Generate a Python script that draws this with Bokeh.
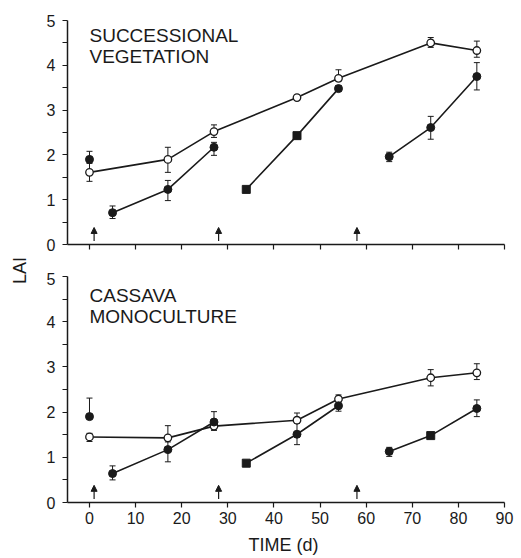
from bokeh.plotting import figure
from bokeh.models import (ColumnDataSource, Whisker, TeeHead, Arrow, NormalHead,
                          FixedTicker, Label, Range1d)
from bokeh.layouts import row, column
from bokeh.embed import file_html
from bokeh.resources import INLINE

# ---------------- data ----------------
days_open = [0, 17, 27, 45, 54, 74, 84]

# Successional vegetation (top panel)
sv_open_y = [1.61, 1.90, 2.52, 3.28, 3.71, 4.50, 4.33]
sv_open_lo = [1.41, 1.61, 2.39, 3.23, 3.65, 4.40, 4.18]
sv_open_hi = [1.81, 2.17, 2.67, 3.33, 3.90, 4.62, 4.54]
sv_init_x = [0]
sv_init_y = [1.90]
sv_init_hi = [2.08]
sv_c1_x = [5, 17, 27]
sv_c1_y = [0.71, 1.23, 2.17]
sv_c1_lo = [0.58, 0.98, 1.99]
sv_c1_hi = [0.86, 1.43, 2.28]
sv_c1_m = ["circle", "circle", "circle"]
sv_c2_x = [34, 45, 54]
sv_c2_y = [1.23, 2.43, 3.48]
sv_c2_lo = [1.21, 2.41, 3.42]
sv_c2_hi = [1.25, 2.45, 3.55]
sv_c2_m = ["square", "square", "circle"]
sv_c3_x = [65, 74, 84]
sv_c3_y = [1.96, 2.61, 3.75]
sv_c3_lo = [1.85, 2.35, 3.45]
sv_c3_hi = [2.06, 2.86, 4.06]
sv_c3_m = ["circle", "circle", "circle"]

# Cassava monoculture (bottom panel)
cm_open_y = [1.45, 1.43, 1.69, 1.82, 2.29, 2.76, 2.87]
cm_open_lo = [1.35, 1.40, 1.60, 1.75, 2.24, 2.58, 2.72]
cm_open_hi = [1.53, 1.70, 1.78, 1.98, 2.38, 2.94, 3.07]
cm_init_x = [0]
cm_init_y = [1.90]
cm_init_hi = [2.31]
cm_c1_x = [5, 17, 27]
cm_c1_y = [0.64, 1.17, 1.78]
cm_c1_lo = [0.50, 0.90, 1.60]
cm_c1_hi = [0.81, 1.34, 2.01]
cm_c1_m = ["circle", "circle", "circle"]
cm_c2_x = [34, 45, 54]
cm_c2_y = [0.87, 1.51, 2.14]
cm_c2_lo = [0.84, 1.28, 2.02]
cm_c2_hi = [0.90, 1.75, 2.23]
cm_c2_m = ["square", "circle", "circle"]
cm_c3_x = [65, 74, 84]
cm_c3_y = [1.13, 1.48, 2.08]
cm_c3_lo = [1.02, 1.45, 1.90]
cm_c3_hi = [1.22, 1.51, 2.27]
cm_c3_m = ["circle", "square", "circle"]

# planting dates (arrows)
arrow_days = [1, 28, 58]
arrow_y0 = [0.08, 0.08, 0.08]
arrow_y1 = [0.38, 0.38, 0.38]

x_ticks = [0, 10, 20, 30, 40, 50, 60, 70, 80, 90]
y_ticks = [0, 1, 2, 3, 4, 5]
y_minor = [0.5, 1.5, 2.5, 3.5, 4.5]

INK = "#1a1a1a"
FONT = "Liberation Sans"


def make_panel(open_y, open_lo, open_hi, init_x, init_y, init_hi, cycles,
               title_lines, bottom):
    fh = 226 if bottom else 224
    p = figure(frame_width=437, frame_height=fh,
               x_range=Range1d(-4.77, 90), y_range=Range1d(0, 5),
               min_border_left=37, min_border_right=17,
               min_border_top=4 if bottom else 20,
               min_border_bottom=56 if bottom else 28,
               output_backend="svg", toolbar_location=None, title=None)
    p.outline_line_color = None
    p.grid.visible = False
    p.background_fill_color = "white"
    p.border_fill_color = "white"

    for ax in (p.xaxis[0], p.yaxis[0]):
        ax.axis_line_color = INK
        ax.axis_line_width = 1.5
        ax.major_tick_line_color = INK
        ax.major_tick_line_width = 1.2
        ax.minor_tick_line_color = INK
        ax.minor_tick_line_width = 1.2
        ax.major_tick_in = 0
        ax.major_tick_out = 5
        ax.minor_tick_in = 0
        ax.minor_tick_out = 5
        ax.major_label_text_font = FONT
        ax.major_label_text_font_size = "16px"
        ax.major_label_text_color = INK

    p.xaxis[0].ticker = FixedTicker(ticks=x_ticks)
    p.xaxis[0].minor_tick_out = 0
    p.yaxis[0].ticker = FixedTicker(ticks=y_ticks, minor_ticks=y_minor)
    p.yaxis[0].major_label_standoff = 7

    if bottom:
        p.xaxis[0].major_label_standoff = 4
        p.xaxis[0].axis_label = "TIME  (d)"
        p.xaxis[0].axis_label_text_font = FONT
        p.xaxis[0].axis_label_text_font_style = "normal"
        p.xaxis[0].axis_label_text_font_size = "18px"
        p.xaxis[0].axis_label_text_color = INK
        p.xaxis[0].axis_label_standoff = 8
    else:
        # ticks only, no numbers on the upper panel
        p.xaxis[0].major_label_overrides = {t: "" for t in x_ticks}
        p.xaxis[0].major_label_standoff = 0

    # open-circle series (whole vegetation)
    so = ColumnDataSource(dict(x=days_open, y=open_y, lo=open_lo, hi=open_hi))
    p.add_layout(Whisker(base="x", lower="lo", upper="hi", source=so,
                         line_color=INK, line_width=1,
                         upper_head=TeeHead(size=6, line_color=INK, line_width=1),
                         lower_head=TeeHead(size=6, line_color=INK, line_width=1)))
    p.line("x", "y", source=so, line_color=INK, line_width=1.6)
    p.scatter("x", "y", source=so, marker="circle", size=7.5, fill_color="white",
              line_color=INK, line_width=1.3)

    # filled series (crop cycles)
    for cx, cy, clo, chi, cm in cycles:
        sc = ColumnDataSource(dict(x=cx, y=cy, lo=clo, hi=chi, m=cm))
        p.add_layout(Whisker(base="x", lower="lo", upper="hi", source=sc,
                             line_color=INK, line_width=1,
                             upper_head=TeeHead(size=6, line_color=INK, line_width=1),
                             lower_head=TeeHead(size=6, line_color=INK, line_width=1)))
        p.line("x", "y", source=sc, line_color=INK, line_width=1.6)
        p.scatter("x", "y", source=sc, marker="m", size=8, fill_color=INK,
                  line_color=INK)

    # initial value (filled, upper error only)
    si = ColumnDataSource(dict(x=init_x, y=init_y, hi=init_hi))
    p.add_layout(Whisker(base="x", lower="y", upper="hi", source=si,
                         line_color=INK, line_width=1,
                         upper_head=TeeHead(size=6, line_color=INK, line_width=1),
                         lower_head=None))
    p.scatter("x", "y", source=si, marker="circle", size=8, fill_color=INK,
              line_color=INK)

    # arrows
    sa = ColumnDataSource(dict(x=arrow_days, y0=arrow_y0, y1=arrow_y1))
    p.add_layout(Arrow(x_start="x", y_start="y0", x_end="x", y_end="y1", source=sa,
                       line_color=INK, line_width=1.2,
                       end=NormalHead(size=6, fill_color=INK, line_color=INK,
                                      line_width=1)))

    # panel titles
    for txt, yv in title_lines:
        p.add_layout(Label(x=0, y=yv, text=txt, text_font=FONT,
                           text_font_size="19px", text_color=INK,
                           text_align="left", text_baseline="top"))
    return p


top = make_panel(sv_open_y, sv_open_lo, sv_open_hi, sv_init_x, sv_init_y, sv_init_hi,
                 [(sv_c1_x, sv_c1_y, sv_c1_lo, sv_c1_hi, sv_c1_m),
                  (sv_c2_x, sv_c2_y, sv_c2_lo, sv_c2_hi, sv_c2_m),
                  (sv_c3_x, sv_c3_y, sv_c3_lo, sv_c3_hi, sv_c3_m)],
                 [("SUCCESSIONAL", 4.89), ("VEGETATION", 4.44)], bottom=False)

bot = make_panel(cm_open_y, cm_open_lo, cm_open_hi, cm_init_x, cm_init_y, cm_init_hi,
                 [(cm_c1_x, cm_c1_y, cm_c1_lo, cm_c1_hi, cm_c1_m),
                  (cm_c2_x, cm_c2_y, cm_c2_lo, cm_c2_hi, cm_c2_m),
                  (cm_c3_x, cm_c3_y, cm_c3_lo, cm_c3_hi, cm_c3_m)],
                 [("CASSAVA", 4.81), ("MONOCULTURE", 4.35)], bottom=True)

# side strip carrying the shared y-axis title
lab = figure(width=30, height=558, min_border=0, x_range=Range1d(0, 30),
             y_range=Range1d(0, 558), x_axis_location=None, y_axis_location=None,
             output_backend="svg", toolbar_location=None, title=None)
lab.outline_line_color = None
lab.grid.visible = False
lab.add_layout(Label(x=19, y=288, text="LAI", angle=90, angle_units="deg",
                     text_font=FONT, text_font_size="18px", text_color=INK,
                     text_align="center", text_baseline="middle"))

layout = row(lab, column(top, bot))

open("out.html", "w").write(file_html(layout, INLINE))
